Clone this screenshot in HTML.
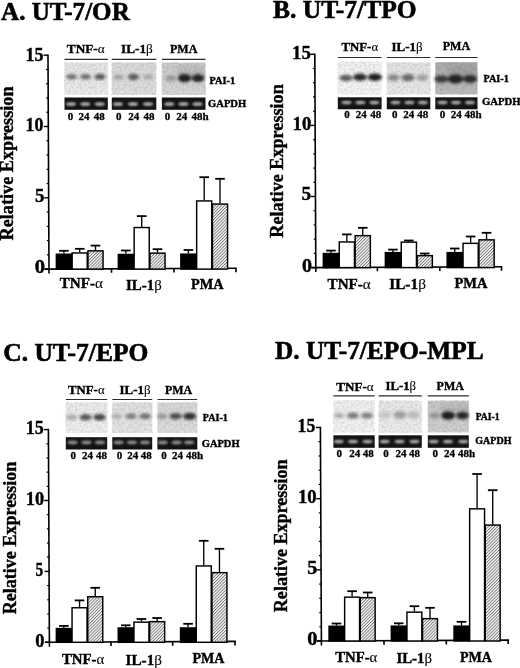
<!DOCTYPE html>
<html><head><meta charset="utf-8"><style>
html,body{margin:0;padding:0;background:#fff;overflow:hidden;}
svg{display:block;filter:grayscale(1);}
text{font-family:"Liberation Serif",serif;font-weight:bold;fill:#000;stroke:#000;stroke-width:0.4px;}
.yl{stroke-width:0.4px;}
tspan{stroke-width:0.1px;}
.ti{stroke-width:0.6px;}
.nm{stroke-width:0.3px;}
</style></head><body>
<svg width="520" height="668" viewBox="0 0 520 668">
<defs>
<pattern id="hatch" patternUnits="userSpaceOnUse" width="2.2" height="2.2" patternTransform="rotate(45)">
<rect width="2.2" height="2.2" fill="#fff"/><line x1="0.5" y1="0" x2="0.5" y2="2.2" stroke="#666" stroke-width="0.85"/></pattern>
<linearGradient id="smear" x1="0" y1="0" x2="0" y2="1"><stop offset="0" stop-color="#000" stop-opacity="0.02"/><stop offset="1" stop-color="#000" stop-opacity="0.15"/></linearGradient>
<filter id="bl" x="-20%" y="-20%" width="140%" height="140%"><feGaussianBlur stdDeviation="1.5"/></filter>
<filter id="nz" x="0" y="0" width="100%" height="100%"><feTurbulence type="fractalNoise" baseFrequency="0.45" numOctaves="2" seed="7"/><feColorMatrix type="matrix" values="0 0 0 0 0  0 0 0 0 0  0 0 0 0 0  0 0 0 0.25 -0.09"/></filter>
<filter id="bl2" x="-50%" y="-100%" width="200%" height="300%"><feGaussianBlur stdDeviation="0.9"/></filter>
</defs>
<text x="1.05" y="19.50" font-size="25.5" textLength="128.71" lengthAdjust="spacingAndGlyphs" class="ti">A. UT-7/OR</text>
<text class="yl" transform="translate(13.40,240.47) rotate(-90)" x="0" y="0" font-size="18.5" textLength="154.01" lengthAdjust="spacingAndGlyphs">Relative Expression</text>
<g stroke="#000" fill="none">
<line x1="47.99" y1="54.40" x2="49.02" y2="273.60" stroke-width="1.6"/>
<line x1="44.50" y1="269.12" x2="236.80" y2="268.22" stroke-width="1.6"/>
<line x1="111.5" y1="268.81" x2="111.52" y2="272.81" stroke-width="1.6"/>
<line x1="174" y1="268.51" x2="174.02" y2="272.51" stroke-width="1.6"/>
<line x1="236" y1="268.22" x2="236.02" y2="272.22" stroke-width="1.6"/>
<line x1="44.50" y1="269.10" x2="49.00" y2="269.10" stroke-width="1.4"/>
<line x1="46.93" y1="254.84" x2="48.93" y2="254.84" stroke-width="1.2"/>
<line x1="46.87" y1="240.58" x2="48.87" y2="240.58" stroke-width="1.2"/>
<line x1="46.80" y1="226.32" x2="48.80" y2="226.32" stroke-width="1.2"/>
<line x1="46.73" y1="212.06" x2="48.73" y2="212.06" stroke-width="1.2"/>
<line x1="44.17" y1="197.80" x2="48.67" y2="197.80" stroke-width="1.4"/>
<line x1="46.60" y1="183.54" x2="48.60" y2="183.54" stroke-width="1.2"/>
<line x1="46.53" y1="169.28" x2="48.53" y2="169.28" stroke-width="1.2"/>
<line x1="46.46" y1="155.02" x2="48.46" y2="155.02" stroke-width="1.2"/>
<line x1="46.40" y1="140.76" x2="48.40" y2="140.76" stroke-width="1.2"/>
<line x1="43.83" y1="126.50" x2="48.33" y2="126.50" stroke-width="1.4"/>
<line x1="46.26" y1="112.24" x2="48.26" y2="112.24" stroke-width="1.2"/>
<line x1="46.20" y1="97.98" x2="48.20" y2="97.98" stroke-width="1.2"/>
<line x1="46.13" y1="83.72" x2="48.13" y2="83.72" stroke-width="1.2"/>
<line x1="46.06" y1="69.46" x2="48.06" y2="69.46" stroke-width="1.2"/>
<line x1="43.50" y1="55.20" x2="48.00" y2="55.20" stroke-width="1.4"/>
</g>
<text x="25.46" y="60.50" font-size="18.5" textLength="17.97" lengthAdjust="spacingAndGlyphs">15</text>
<text x="25.57" y="131.20" font-size="18.5" textLength="17.84" lengthAdjust="spacingAndGlyphs">10</text>
<text x="34.95" y="202.00" font-size="18.5" textLength="9.41" lengthAdjust="spacingAndGlyphs">5</text>
<text x="34.68" y="273.40" font-size="18.5" textLength="10.24" lengthAdjust="spacingAndGlyphs">0</text>
<path d="M63.90 253.6 V250.8" stroke="#000" stroke-width="1.35" fill="none"/><path d="M59.10 250.8 H68.70" stroke="#000" stroke-width="1.8" fill="none"/>
<rect x="56.35" y="254.25" width="15.10" height="14.85" fill="#000" stroke="#000" stroke-width="1.45"/>
<path d="M79.70 252.3 V248.8" stroke="#000" stroke-width="1.35" fill="none"/><path d="M74.90 248.8 H84.50" stroke="#000" stroke-width="1.8" fill="none"/>
<rect x="72.15" y="252.95" width="15.10" height="16.15" fill="#fff" stroke="#000" stroke-width="1.45"/>
<path d="M95.50 250.2 V245.6" stroke="#000" stroke-width="1.35" fill="none"/><path d="M90.70 245.6 H100.30" stroke="#000" stroke-width="1.8" fill="none"/>
<rect x="87.95" y="250.85" width="15.10" height="18.25" fill="url(#hatch)" stroke="#000" stroke-width="1.45"/>
<path d="M125.90 253.8 V250.5" stroke="#000" stroke-width="1.35" fill="none"/><path d="M121.10 250.5 H130.70" stroke="#000" stroke-width="1.8" fill="none"/>
<rect x="118.35" y="254.45" width="15.10" height="14.65" fill="#000" stroke="#000" stroke-width="1.45"/>
<path d="M141.70 226.9 V216.1" stroke="#000" stroke-width="1.35" fill="none"/><path d="M136.90 216.1 H146.50" stroke="#000" stroke-width="1.8" fill="none"/>
<rect x="134.15" y="227.55" width="15.10" height="41.55" fill="#fff" stroke="#000" stroke-width="1.45"/>
<path d="M157.50 252.5 V249.2" stroke="#000" stroke-width="1.35" fill="none"/><path d="M152.70 249.2 H162.30" stroke="#000" stroke-width="1.8" fill="none"/>
<rect x="149.95" y="253.15" width="15.10" height="15.95" fill="url(#hatch)" stroke="#000" stroke-width="1.45"/>
<path d="M188.40 253.5 V250.0" stroke="#000" stroke-width="1.35" fill="none"/><path d="M183.60 250.0 H193.20" stroke="#000" stroke-width="1.8" fill="none"/>
<rect x="180.85" y="254.15" width="15.10" height="14.95" fill="#000" stroke="#000" stroke-width="1.45"/>
<path d="M204.20 200.3 V177.2" stroke="#000" stroke-width="1.35" fill="none"/><path d="M199.40 177.2 H209.00" stroke="#000" stroke-width="1.8" fill="none"/>
<rect x="196.65" y="200.95" width="15.10" height="68.15" fill="#fff" stroke="#000" stroke-width="1.45"/>
<path d="M220.00 203.4 V178.8" stroke="#000" stroke-width="1.35" fill="none"/><path d="M215.20 178.8 H224.80" stroke="#000" stroke-width="1.8" fill="none"/>
<rect x="212.45" y="204.05" width="15.10" height="65.05" fill="url(#hatch)" stroke="#000" stroke-width="1.45"/>
<text x="59.77" y="288.20" font-size="15" textLength="43.06" lengthAdjust="spacingAndGlyphs">TNF-<tspan font-weight="normal" font-style="normal">α</tspan></text>
<text x="125.98" y="290.00" font-size="15" textLength="35.76" lengthAdjust="spacingAndGlyphs">IL-1<tspan font-weight="normal" font-style="normal">β</tspan></text>
<text x="191.09" y="288.90" font-size="15" textLength="32.51" lengthAdjust="spacingAndGlyphs">PMA</text>
<linearGradient id="g1" x1="0" y1="0" x2="0" y2="1"><stop offset="0" stop-color="#e6e6e6"/><stop offset="1" stop-color="#ececec"/></linearGradient>
<line x1="64.5" y1="59.4" x2="107.8" y2="59.4" stroke="#2a2a2a" stroke-width="1.2"/>
<rect x="64.5" y="62.5" width="43.30" height="32.50" fill="url(#g1)"/>
<rect x="64.5" y="62.5" width="43.30" height="32.50" fill="#000" filter="url(#nz)"/>
<g filter="url(#bl)">
<ellipse cx="71.6" cy="76.8" rx="5.5" ry="2.8" fill="#707070"/>
<ellipse cx="85.6" cy="76.8" rx="5.5" ry="2.8" fill="#6c6c6c"/>
<ellipse cx="100" cy="76.8" rx="5.5" ry="3" fill="#5a5a5a"/>
</g>
<rect x="64.5" y="97.5" width="43.30" height="12.30" fill="#131313"/>
<g filter="url(#bl2)">
<ellipse cx="71" cy="104" rx="5.1" ry="1.8" fill="#b8b8b8"/>
<ellipse cx="85.3" cy="104" rx="5.1" ry="1.8" fill="#b8b8b8"/>
<ellipse cx="99.7" cy="104" rx="5.1" ry="1.8" fill="#b8b8b8"/>
</g>
<linearGradient id="g2" x1="0" y1="0" x2="0" y2="1"><stop offset="0" stop-color="#dadada"/><stop offset="1" stop-color="#e0e0e0"/></linearGradient>
<line x1="111.8" y1="59.4" x2="156.3" y2="59.4" stroke="#2a2a2a" stroke-width="1.2"/>
<rect x="111.8" y="62.5" width="44.50" height="32.30" fill="url(#g2)"/>
<rect x="111.8" y="62.5" width="44.50" height="32.30" fill="#000" filter="url(#nz)"/>
<g filter="url(#bl)">
<ellipse cx="118.5" cy="77" rx="5" ry="2.6" fill="#a0a0a0"/>
<ellipse cx="133.5" cy="77" rx="5.5" ry="3.3" fill="#5a5a5a"/>
<ellipse cx="148" cy="77" rx="5" ry="2.5" fill="#a4a4a4"/>
</g>
<rect x="111.8" y="97.5" width="44.50" height="12.30" fill="#131313"/>
<g filter="url(#bl2)">
<ellipse cx="118" cy="104" rx="5.1" ry="1.8" fill="#b8b8b8"/>
<ellipse cx="133" cy="104" rx="5.1" ry="1.8" fill="#b8b8b8"/>
<ellipse cx="148" cy="104" rx="5.1" ry="1.8" fill="#b8b8b8"/>
</g>
<linearGradient id="g3" x1="0" y1="0" x2="0" y2="1"><stop offset="0" stop-color="#cbcbcb"/><stop offset="1" stop-color="#dadada"/></linearGradient>
<line x1="161.9" y1="59.4" x2="205.5" y2="59.4" stroke="#2a2a2a" stroke-width="1.2"/>
<rect x="161.9" y="62.7" width="43.60" height="32.30" fill="url(#g3)"/>
<rect x="161.9" y="62.7" width="43.60" height="32.30" fill="#000" filter="url(#nz)"/>
<g filter="url(#bl)">
<rect x="177.90" y="63.7" width="13.20" height="14.50" fill="url(#smear)"/>
<rect x="191.70" y="63.7" width="12.60" height="14.50" fill="url(#smear)"/>
<ellipse cx="171" cy="78.2" rx="5.5" ry="3" fill="#959595"/>
<ellipse cx="184.5" cy="78.2" rx="6.6" ry="4.1" fill="#1c1c1c"/>
<ellipse cx="198" cy="78.2" rx="6.3" ry="3.9" fill="#242424"/>
</g>
<rect x="161.9" y="97.5" width="43.60" height="12.30" fill="#131313"/>
<g filter="url(#bl2)">
<ellipse cx="169.3" cy="104" rx="5.1" ry="1.8" fill="#b8b8b8"/>
<ellipse cx="183.5" cy="104" rx="5.1" ry="1.8" fill="#b8b8b8"/>
<ellipse cx="197.5" cy="104" rx="5.1" ry="1.8" fill="#b8b8b8"/>
</g>
<text x="66.80" y="52.80" font-size="13" textLength="37.89" lengthAdjust="spacingAndGlyphs">TNF-<tspan font-weight="normal" font-style="normal">α</tspan></text>
<text x="121.04" y="53.00" font-size="13" textLength="31.84" lengthAdjust="spacingAndGlyphs">IL-1<tspan font-weight="normal" font-style="normal">β</tspan></text>
<text x="169.92" y="53.00" font-size="13" textLength="27.46" lengthAdjust="spacingAndGlyphs">PMA</text>
<text class="nm" x="70.60" y="119.80" font-size="11" text-anchor="middle">0</text>
<text class="nm" x="83.90" y="119.80" font-size="11" text-anchor="middle">24</text>
<text class="nm" x="99.20" y="119.80" font-size="11" text-anchor="middle">48</text>
<text class="nm" x="118.80" y="119.80" font-size="11" text-anchor="middle">0</text>
<text class="nm" x="133.70" y="119.80" font-size="11" text-anchor="middle">24</text>
<text class="nm" x="149.00" y="119.80" font-size="11" text-anchor="middle">48</text>
<text class="nm" x="167.60" y="119.80" font-size="11" text-anchor="middle">0</text>
<text class="nm" x="181.70" y="119.80" font-size="11" text-anchor="middle">24</text>
<text class="nm" x="200.10" y="119.80" font-size="11" text-anchor="middle">48h</text>
<text x="209.44" y="84.20" font-size="10.8" textLength="25.68" lengthAdjust="spacingAndGlyphs">PAI-1</text>
<text x="208.07" y="107.30" font-size="10.8" textLength="38.09" lengthAdjust="spacingAndGlyphs">GAPDH</text>
<text x="273.02" y="18.20" font-size="25.5" textLength="143.56" lengthAdjust="spacingAndGlyphs" class="ti">B. UT-7/TPO</text>
<text class="yl" transform="translate(282.70,237.67) rotate(-90)" x="0" y="0" font-size="18.5" textLength="153.41" lengthAdjust="spacingAndGlyphs">Relative Expression</text>
<g stroke="#000" fill="none">
<line x1="314.79" y1="53.50" x2="315.82" y2="272.10" stroke-width="1.6"/>
<line x1="311.30" y1="267.62" x2="502.30" y2="266.72" stroke-width="1.6"/>
<line x1="377.4" y1="267.31" x2="377.42" y2="271.31" stroke-width="1.6"/>
<line x1="439.8" y1="267.02" x2="439.82" y2="271.02" stroke-width="1.6"/>
<line x1="501.5" y1="266.73" x2="501.52" y2="270.73" stroke-width="1.6"/>
<line x1="311.30" y1="267.60" x2="315.80" y2="267.60" stroke-width="1.4"/>
<line x1="313.73" y1="253.38" x2="315.73" y2="253.38" stroke-width="1.2"/>
<line x1="313.67" y1="239.16" x2="315.67" y2="239.16" stroke-width="1.2"/>
<line x1="313.60" y1="224.94" x2="315.60" y2="224.94" stroke-width="1.2"/>
<line x1="313.53" y1="210.72" x2="315.53" y2="210.72" stroke-width="1.2"/>
<line x1="310.97" y1="196.50" x2="315.47" y2="196.50" stroke-width="1.4"/>
<line x1="313.40" y1="182.28" x2="315.40" y2="182.28" stroke-width="1.2"/>
<line x1="313.33" y1="168.06" x2="315.33" y2="168.06" stroke-width="1.2"/>
<line x1="313.27" y1="153.84" x2="315.27" y2="153.84" stroke-width="1.2"/>
<line x1="313.20" y1="139.62" x2="315.20" y2="139.62" stroke-width="1.2"/>
<line x1="310.63" y1="125.40" x2="315.13" y2="125.40" stroke-width="1.4"/>
<line x1="313.07" y1="111.18" x2="315.07" y2="111.18" stroke-width="1.2"/>
<line x1="313.00" y1="96.96" x2="315.00" y2="96.96" stroke-width="1.2"/>
<line x1="312.93" y1="82.74" x2="314.93" y2="82.74" stroke-width="1.2"/>
<line x1="312.87" y1="68.52" x2="314.87" y2="68.52" stroke-width="1.2"/>
<line x1="310.30" y1="54.30" x2="314.80" y2="54.30" stroke-width="1.4"/>
</g>
<text x="292.10" y="58.90" font-size="18.5" textLength="18.76" lengthAdjust="spacingAndGlyphs">15</text>
<text x="292.50" y="129.60" font-size="18.5" textLength="18.75" lengthAdjust="spacingAndGlyphs">10</text>
<text x="301.53" y="200.40" font-size="18.5" textLength="9.65" lengthAdjust="spacingAndGlyphs">5</text>
<text x="302.00" y="272.00" font-size="18.5" textLength="10.00" lengthAdjust="spacingAndGlyphs">0</text>
<path d="M330.95 252.9 V250.6" stroke="#000" stroke-width="1.35" fill="none"/><path d="M326.15 250.6 H335.75" stroke="#000" stroke-width="1.8" fill="none"/>
<rect x="323.35" y="253.55" width="15.20" height="14.05" fill="#000" stroke="#000" stroke-width="1.45"/>
<path d="M346.85 241.3 V234.4" stroke="#000" stroke-width="1.35" fill="none"/><path d="M342.05 234.4 H351.65" stroke="#000" stroke-width="1.8" fill="none"/>
<rect x="339.25" y="241.95" width="15.20" height="25.65" fill="#fff" stroke="#000" stroke-width="1.45"/>
<path d="M362.75 235 V227.8" stroke="#000" stroke-width="1.35" fill="none"/><path d="M357.95 227.8 H367.55" stroke="#000" stroke-width="1.8" fill="none"/>
<rect x="355.15" y="235.65" width="15.20" height="31.95" fill="url(#hatch)" stroke="#000" stroke-width="1.45"/>
<path d="M392.95 252 V249.6" stroke="#000" stroke-width="1.35" fill="none"/><path d="M388.15 249.6 H397.75" stroke="#000" stroke-width="1.8" fill="none"/>
<rect x="385.35" y="252.65" width="15.20" height="14.95" fill="#000" stroke="#000" stroke-width="1.45"/>
<path d="M408.85 241.5 V240.5" stroke="#000" stroke-width="1.35" fill="none"/><path d="M404.05 240.5 H413.65" stroke="#000" stroke-width="1.8" fill="none"/>
<rect x="401.25" y="242.15" width="15.20" height="25.45" fill="#fff" stroke="#000" stroke-width="1.45"/>
<path d="M424.75 255 V253.5" stroke="#000" stroke-width="1.35" fill="none"/><path d="M419.95 253.5 H429.55" stroke="#000" stroke-width="1.8" fill="none"/>
<rect x="417.15" y="255.65" width="15.20" height="11.95" fill="url(#hatch)" stroke="#000" stroke-width="1.45"/>
<path d="M454.75 252 V248.5" stroke="#000" stroke-width="1.35" fill="none"/><path d="M449.95 248.5 H459.55" stroke="#000" stroke-width="1.8" fill="none"/>
<rect x="447.15" y="252.65" width="15.20" height="14.95" fill="#000" stroke="#000" stroke-width="1.45"/>
<path d="M470.65 242.7 V236.5" stroke="#000" stroke-width="1.35" fill="none"/><path d="M465.85 236.5 H475.45" stroke="#000" stroke-width="1.8" fill="none"/>
<rect x="463.05" y="243.35" width="15.20" height="24.25" fill="#fff" stroke="#000" stroke-width="1.45"/>
<path d="M486.55 239.2 V232.8" stroke="#000" stroke-width="1.35" fill="none"/><path d="M481.75 232.8 H491.35" stroke="#000" stroke-width="1.8" fill="none"/>
<rect x="478.95" y="239.85" width="15.20" height="27.75" fill="url(#hatch)" stroke="#000" stroke-width="1.45"/>
<text x="327.57" y="289.00" font-size="15" textLength="43.16" lengthAdjust="spacingAndGlyphs">TNF-<tspan font-weight="normal" font-style="normal">α</tspan></text>
<text x="389.16" y="288.90" font-size="15" textLength="36.80" lengthAdjust="spacingAndGlyphs">IL-1<tspan font-weight="normal" font-style="normal">β</tspan></text>
<text x="454.38" y="288.40" font-size="15" textLength="33.02" lengthAdjust="spacingAndGlyphs">PMA</text>
<linearGradient id="g4" x1="0" y1="0" x2="0" y2="1"><stop offset="0" stop-color="#f2f2f2"/><stop offset="1" stop-color="#f6f6f6"/></linearGradient>
<line x1="337.8" y1="57.5" x2="381.6" y2="57.5" stroke="#2a2a2a" stroke-width="1.2"/>
<rect x="337.8" y="61.8" width="43.80" height="32.60" fill="url(#g4)"/>
<rect x="337.8" y="61.8" width="43.80" height="32.60" fill="#000" filter="url(#nz)"/>
<g filter="url(#bl)">
<ellipse cx="346" cy="78" rx="6.5" ry="3.2" fill="#585858"/>
<ellipse cx="360" cy="77.2" rx="7" ry="3.6" fill="#282828"/>
<ellipse cx="374.9" cy="77.2" rx="7" ry="3.7" fill="#1e1e1e"/>
</g>
<rect x="337.8" y="97.3" width="43.80" height="12.00" fill="#131313"/>
<g filter="url(#bl2)">
<ellipse cx="346.5" cy="102.5" rx="5.1" ry="1.8" fill="#b0b0b0"/>
<ellipse cx="360.4" cy="102.5" rx="5.1" ry="1.8" fill="#b0b0b0"/>
<ellipse cx="374.4" cy="102.5" rx="5.1" ry="1.8" fill="#b0b0b0"/>
</g>
<linearGradient id="g5" x1="0" y1="0" x2="0" y2="1"><stop offset="0" stop-color="#e4e4e4"/><stop offset="1" stop-color="#eaeaea"/></linearGradient>
<line x1="386.8" y1="57.5" x2="430.3" y2="57.5" stroke="#2a2a2a" stroke-width="1.2"/>
<rect x="386.8" y="62.5" width="43.50" height="31.90" fill="url(#g5)"/>
<rect x="386.8" y="62.5" width="43.50" height="31.90" fill="#000" filter="url(#nz)"/>
<g filter="url(#bl)">
<ellipse cx="393.5" cy="77.6" rx="6.2" ry="3.3" fill="#888"/>
<ellipse cx="408" cy="77.6" rx="6.5" ry="3.6" fill="#6a6a6a"/>
<ellipse cx="422.4" cy="77.6" rx="6" ry="3.3" fill="#a0a0a0"/>
</g>
<rect x="386.8" y="97.3" width="43.50" height="12.00" fill="#131313"/>
<g filter="url(#bl2)">
<ellipse cx="395.5" cy="102.5" rx="5.1" ry="1.8" fill="#b0b0b0"/>
<ellipse cx="409.4" cy="102.5" rx="5.1" ry="1.8" fill="#b0b0b0"/>
<ellipse cx="422.9" cy="102.5" rx="5.1" ry="1.8" fill="#b0b0b0"/>
</g>
<linearGradient id="g6" x1="0" y1="0" x2="0" y2="1"><stop offset="0" stop-color="#acacac"/><stop offset="1" stop-color="#bebebe"/></linearGradient>
<line x1="435.3" y1="57.5" x2="477.5" y2="57.5" stroke="#2a2a2a" stroke-width="1.2"/>
<rect x="435.3" y="62.2" width="42.20" height="32.20" fill="url(#g6)"/>
<rect x="435.3" y="62.2" width="42.20" height="32.20" fill="#000" filter="url(#nz)"/>
<g filter="url(#bl)">
<rect x="448.00" y="63.2" width="15.00" height="15.80" fill="url(#smear)"/>
<rect x="463.00" y="63.2" width="14.00" height="15.80" fill="url(#smear)"/>
<ellipse cx="441.5" cy="79" rx="7" ry="3.8" fill="#3a3a3a"/>
<ellipse cx="455.5" cy="79" rx="7.5" ry="4.5" fill="#202020"/>
<ellipse cx="470" cy="79" rx="7" ry="4" fill="#2c2c2c"/>
</g>
<rect x="435.3" y="97.3" width="42.20" height="12.00" fill="#131313"/>
<g filter="url(#bl2)">
<ellipse cx="442.5" cy="102.5" rx="5.1" ry="1.8" fill="#b0b0b0"/>
<ellipse cx="456" cy="102.5" rx="5.1" ry="1.8" fill="#b0b0b0"/>
<ellipse cx="470" cy="102.5" rx="5.1" ry="1.8" fill="#b0b0b0"/>
</g>
<text x="341.51" y="50.50" font-size="13" textLength="36.57" lengthAdjust="spacingAndGlyphs">TNF-<tspan font-weight="normal" font-style="normal">α</tspan></text>
<text x="391.45" y="50.50" font-size="13" textLength="31.11" lengthAdjust="spacingAndGlyphs">IL-1<tspan font-weight="normal" font-style="normal">β</tspan></text>
<text x="442.72" y="50.30" font-size="13" textLength="27.46" lengthAdjust="spacingAndGlyphs">PMA</text>
<text class="nm" x="347.00" y="118.40" font-size="11" text-anchor="middle">0</text>
<text class="nm" x="361.20" y="118.40" font-size="11" text-anchor="middle">24</text>
<text class="nm" x="375.70" y="118.40" font-size="11" text-anchor="middle">48</text>
<text class="nm" x="394.70" y="118.40" font-size="11" text-anchor="middle">0</text>
<text class="nm" x="408.80" y="118.40" font-size="11" text-anchor="middle">24</text>
<text class="nm" x="422.70" y="118.40" font-size="11" text-anchor="middle">48</text>
<text class="nm" x="442.60" y="118.40" font-size="11" text-anchor="middle">0</text>
<text class="nm" x="456.20" y="118.40" font-size="11" text-anchor="middle">24</text>
<text class="nm" x="473.00" y="118.40" font-size="11" text-anchor="middle">48h</text>
<text x="483.45" y="81.90" font-size="10.8" textLength="25.48" lengthAdjust="spacingAndGlyphs">PAI-1</text>
<text x="481.96" y="104.70" font-size="10.8" textLength="38.71" lengthAdjust="spacingAndGlyphs">GAPDH</text>
<text x="3.22" y="360.60" font-size="25.5" textLength="145.16" lengthAdjust="spacingAndGlyphs" class="ti">C. UT-7/EPO</text>
<text class="yl" transform="translate(15.50,614.27) rotate(-90)" x="0" y="0" font-size="18.5" textLength="152.61" lengthAdjust="spacingAndGlyphs">Relative Expression</text>
<g stroke="#000" fill="none">
<line x1="48.40" y1="428.80" x2="49.42" y2="646.80" stroke-width="1.6"/>
<line x1="44.90" y1="642.32" x2="235.80" y2="641.42" stroke-width="1.6"/>
<line x1="111" y1="642.01" x2="111.02" y2="646.01" stroke-width="1.6"/>
<line x1="172.7" y1="641.72" x2="172.72" y2="645.72" stroke-width="1.6"/>
<line x1="235" y1="641.43" x2="235.02" y2="645.43" stroke-width="1.6"/>
<line x1="44.90" y1="642.30" x2="49.40" y2="642.30" stroke-width="1.4"/>
<line x1="47.33" y1="628.12" x2="49.33" y2="628.12" stroke-width="1.2"/>
<line x1="47.27" y1="613.94" x2="49.27" y2="613.94" stroke-width="1.2"/>
<line x1="47.20" y1="599.76" x2="49.20" y2="599.76" stroke-width="1.2"/>
<line x1="47.13" y1="585.58" x2="49.13" y2="585.58" stroke-width="1.2"/>
<line x1="44.57" y1="571.40" x2="49.07" y2="571.40" stroke-width="1.4"/>
<line x1="47.00" y1="557.22" x2="49.00" y2="557.22" stroke-width="1.2"/>
<line x1="46.93" y1="543.04" x2="48.93" y2="543.04" stroke-width="1.2"/>
<line x1="46.87" y1="528.86" x2="48.87" y2="528.86" stroke-width="1.2"/>
<line x1="46.80" y1="514.68" x2="48.80" y2="514.68" stroke-width="1.2"/>
<line x1="44.23" y1="500.50" x2="48.73" y2="500.50" stroke-width="1.4"/>
<line x1="46.67" y1="486.32" x2="48.67" y2="486.32" stroke-width="1.2"/>
<line x1="46.60" y1="472.14" x2="48.60" y2="472.14" stroke-width="1.2"/>
<line x1="46.53" y1="457.96" x2="48.53" y2="457.96" stroke-width="1.2"/>
<line x1="46.47" y1="443.78" x2="48.47" y2="443.78" stroke-width="1.2"/>
<line x1="43.90" y1="429.60" x2="48.40" y2="429.60" stroke-width="1.4"/>
</g>
<text x="25.76" y="434.00" font-size="18.5" textLength="17.97" lengthAdjust="spacingAndGlyphs">15</text>
<text x="25.83" y="505.30" font-size="18.5" textLength="18.41" lengthAdjust="spacingAndGlyphs">10</text>
<text x="35.39" y="576.00" font-size="18.5" textLength="7.65" lengthAdjust="spacingAndGlyphs">5</text>
<text x="35.26" y="646.90" font-size="18.5" textLength="9.23" lengthAdjust="spacingAndGlyphs">0</text>
<path d="M63.85 627.9 V625.9" stroke="#000" stroke-width="1.35" fill="none"/><path d="M59.05 625.9 H68.65" stroke="#000" stroke-width="1.8" fill="none"/>
<rect x="56.35" y="628.55" width="15.00" height="13.75" fill="#000" stroke="#000" stroke-width="1.45"/>
<path d="M79.55 607.1 V600.4" stroke="#000" stroke-width="1.35" fill="none"/><path d="M74.75 600.4 H84.35" stroke="#000" stroke-width="1.8" fill="none"/>
<rect x="72.05" y="607.75" width="15.00" height="34.55" fill="#fff" stroke="#000" stroke-width="1.45"/>
<path d="M95.25 596.1 V587.8" stroke="#000" stroke-width="1.35" fill="none"/><path d="M90.45 587.8 H100.05" stroke="#000" stroke-width="1.8" fill="none"/>
<rect x="87.75" y="596.75" width="15.00" height="45.55" fill="url(#hatch)" stroke="#000" stroke-width="1.45"/>
<path d="M125.75 627.3 V625.3" stroke="#000" stroke-width="1.35" fill="none"/><path d="M120.95 625.3 H130.55" stroke="#000" stroke-width="1.8" fill="none"/>
<rect x="118.25" y="627.95" width="15.00" height="14.35" fill="#000" stroke="#000" stroke-width="1.45"/>
<path d="M141.45 621.5 V619" stroke="#000" stroke-width="1.35" fill="none"/><path d="M136.65 619 H146.25" stroke="#000" stroke-width="1.8" fill="none"/>
<rect x="133.95" y="622.15" width="15.00" height="20.15" fill="#fff" stroke="#000" stroke-width="1.45"/>
<path d="M157.15 621 V618" stroke="#000" stroke-width="1.35" fill="none"/><path d="M152.35 618 H161.95" stroke="#000" stroke-width="1.8" fill="none"/>
<rect x="149.65" y="621.65" width="15.00" height="20.65" fill="url(#hatch)" stroke="#000" stroke-width="1.45"/>
<path d="M188.05 627.3 V623.8" stroke="#000" stroke-width="1.35" fill="none"/><path d="M183.25 623.8 H192.85" stroke="#000" stroke-width="1.8" fill="none"/>
<rect x="180.55" y="627.95" width="15.00" height="14.35" fill="#000" stroke="#000" stroke-width="1.45"/>
<path d="M203.75 565.3 V540.8" stroke="#000" stroke-width="1.35" fill="none"/><path d="M198.95 540.8 H208.55" stroke="#000" stroke-width="1.8" fill="none"/>
<rect x="196.25" y="565.95" width="15.00" height="76.35" fill="#fff" stroke="#000" stroke-width="1.45"/>
<path d="M219.45 572 V548.8" stroke="#000" stroke-width="1.35" fill="none"/><path d="M214.65 548.8 H224.25" stroke="#000" stroke-width="1.8" fill="none"/>
<rect x="211.95" y="572.65" width="15.00" height="69.65" fill="url(#hatch)" stroke="#000" stroke-width="1.45"/>
<text x="61.98" y="663.90" font-size="15" textLength="42.35" lengthAdjust="spacingAndGlyphs">TNF-<tspan font-weight="normal" font-style="normal">α</tspan></text>
<text x="125.57" y="664.50" font-size="15" textLength="36.38" lengthAdjust="spacingAndGlyphs">IL-1<tspan font-weight="normal" font-style="normal">β</tspan></text>
<text x="192.49" y="663.30" font-size="15" textLength="32.01" lengthAdjust="spacingAndGlyphs">PMA</text>
<linearGradient id="g7" x1="0" y1="0" x2="0" y2="1"><stop offset="0" stop-color="#ececec"/><stop offset="1" stop-color="#f0f0f0"/></linearGradient>
<line x1="65.8" y1="399.5" x2="107.2" y2="399.5" stroke="#2a2a2a" stroke-width="1.2"/>
<rect x="65.8" y="402.3" width="41.40" height="30.70" fill="url(#g7)"/>
<rect x="65.8" y="402.3" width="41.40" height="30.70" fill="#000" filter="url(#nz)"/>
<g filter="url(#bl)">
<ellipse cx="71.6" cy="417.2" rx="5.5" ry="2.8" fill="#a8a8a8"/>
<ellipse cx="85.6" cy="417.2" rx="6" ry="3.2" fill="#585858"/>
<ellipse cx="99.5" cy="417.2" rx="6" ry="3.3" fill="#444"/>
</g>
<rect x="65.8" y="437.2" width="41.40" height="12.30" fill="#131313"/>
<g filter="url(#bl2)">
<ellipse cx="72.6" cy="442.4" rx="5.1" ry="1.8" fill="#909090"/>
<ellipse cx="86.5" cy="442.4" rx="5.1" ry="1.8" fill="#909090"/>
<ellipse cx="100" cy="442.4" rx="5.1" ry="1.8" fill="#909090"/>
</g>
<linearGradient id="g8" x1="0" y1="0" x2="0" y2="1"><stop offset="0" stop-color="#e0e0e0"/><stop offset="1" stop-color="#e6e6e6"/></linearGradient>
<line x1="112.3" y1="399.5" x2="152.2" y2="399.5" stroke="#2a2a2a" stroke-width="1.2"/>
<rect x="112.3" y="402.3" width="39.90" height="30.70" fill="url(#g8)"/>
<rect x="112.3" y="402.3" width="39.90" height="30.70" fill="#000" filter="url(#nz)"/>
<g filter="url(#bl)">
<ellipse cx="116.7" cy="416.2" rx="5" ry="2.6" fill="#b0b0b0"/>
<ellipse cx="131" cy="416.2" rx="5.5" ry="3" fill="#808080"/>
<ellipse cx="145" cy="416.2" rx="5.5" ry="3" fill="#707070"/>
</g>
<rect x="112.3" y="437.2" width="39.90" height="12.30" fill="#131313"/>
<g filter="url(#bl2)">
<ellipse cx="118.6" cy="442.4" rx="5.1" ry="1.8" fill="#909090"/>
<ellipse cx="132" cy="442.4" rx="5.1" ry="1.8" fill="#909090"/>
<ellipse cx="145" cy="442.4" rx="5.1" ry="1.8" fill="#909090"/>
</g>
<linearGradient id="g9" x1="0" y1="0" x2="0" y2="1"><stop offset="0" stop-color="#d8d8d8"/><stop offset="1" stop-color="#e0e0e0"/></linearGradient>
<line x1="157.4" y1="399.5" x2="197.3" y2="399.5" stroke="#2a2a2a" stroke-width="1.2"/>
<rect x="157.4" y="402.3" width="39.90" height="30.70" fill="url(#g9)"/>
<rect x="157.4" y="402.3" width="39.90" height="30.70" fill="#000" filter="url(#nz)"/>
<g filter="url(#bl)">
<ellipse cx="162.2" cy="416.2" rx="5" ry="2.8" fill="#989898"/>
<ellipse cx="175.6" cy="416.2" rx="6" ry="3.3" fill="#4c4c4c"/>
<ellipse cx="189.6" cy="416.2" rx="6.5" ry="3.5" fill="#2e2e2e"/>
</g>
<rect x="157.4" y="437.2" width="39.90" height="12.30" fill="#131313"/>
<g filter="url(#bl2)">
<ellipse cx="162.7" cy="442.4" rx="5.1" ry="1.8" fill="#909090"/>
<ellipse cx="176.6" cy="442.4" rx="5.1" ry="1.8" fill="#909090"/>
<ellipse cx="189.1" cy="442.4" rx="5.1" ry="1.8" fill="#909090"/>
</g>
<text x="68.06" y="393.90" font-size="13" textLength="36.52" lengthAdjust="spacingAndGlyphs">TNF-<tspan font-weight="normal" font-style="normal">α</tspan></text>
<text x="119.45" y="393.90" font-size="13" textLength="31.11" lengthAdjust="spacingAndGlyphs">IL-1<tspan font-weight="normal" font-style="normal">β</tspan></text>
<text x="164.92" y="393.50" font-size="13" textLength="27.16" lengthAdjust="spacingAndGlyphs">PMA</text>
<text class="nm" x="73.30" y="459.30" font-size="11" text-anchor="middle">0</text>
<text class="nm" x="87.50" y="459.30" font-size="11" text-anchor="middle">24</text>
<text class="nm" x="101.40" y="459.30" font-size="11" text-anchor="middle">48</text>
<text class="nm" x="119.40" y="459.30" font-size="11" text-anchor="middle">0</text>
<text class="nm" x="132.80" y="459.30" font-size="11" text-anchor="middle">24</text>
<text class="nm" x="146.20" y="459.30" font-size="11" text-anchor="middle">48</text>
<text class="nm" x="164.10" y="459.30" font-size="11" text-anchor="middle">0</text>
<text class="nm" x="177.50" y="459.30" font-size="11" text-anchor="middle">24</text>
<text class="nm" x="194.60" y="459.30" font-size="11" text-anchor="middle">48h</text>
<text x="202.75" y="421.20" font-size="10.8" textLength="25.07" lengthAdjust="spacingAndGlyphs">PAI-1</text>
<text x="201.78" y="446.50" font-size="10.8" textLength="37.79" lengthAdjust="spacingAndGlyphs">GAPDH</text>
<text x="274.99" y="358.60" font-size="25.5" textLength="208.54" lengthAdjust="spacingAndGlyphs" class="ti">D. UT-7/EPO-MPL</text>
<text class="yl" transform="translate(286.70,612.17) rotate(-90)" x="0" y="0" font-size="18.5" textLength="152.71" lengthAdjust="spacingAndGlyphs">Relative Expression</text>
<g stroke="#000" fill="none">
<line x1="320.39" y1="426.70" x2="321.42" y2="645.50" stroke-width="1.6"/>
<line x1="316.90" y1="641.02" x2="509.00" y2="640.12" stroke-width="1.6"/>
<line x1="384" y1="640.71" x2="384.02" y2="644.71" stroke-width="1.6"/>
<line x1="446.3" y1="640.41" x2="446.32" y2="644.41" stroke-width="1.6"/>
<line x1="508.2" y1="640.12" x2="508.22" y2="644.12" stroke-width="1.6"/>
<line x1="316.90" y1="641.00" x2="321.40" y2="641.00" stroke-width="1.4"/>
<line x1="319.33" y1="626.77" x2="321.33" y2="626.77" stroke-width="1.2"/>
<line x1="319.27" y1="612.53" x2="321.27" y2="612.53" stroke-width="1.2"/>
<line x1="319.20" y1="598.30" x2="321.20" y2="598.30" stroke-width="1.2"/>
<line x1="319.13" y1="584.07" x2="321.13" y2="584.07" stroke-width="1.2"/>
<line x1="316.57" y1="569.83" x2="321.07" y2="569.83" stroke-width="1.4"/>
<line x1="319.00" y1="555.60" x2="321.00" y2="555.60" stroke-width="1.2"/>
<line x1="318.93" y1="541.37" x2="320.93" y2="541.37" stroke-width="1.2"/>
<line x1="318.87" y1="527.13" x2="320.87" y2="527.13" stroke-width="1.2"/>
<line x1="318.80" y1="512.90" x2="320.80" y2="512.90" stroke-width="1.2"/>
<line x1="316.23" y1="498.67" x2="320.73" y2="498.67" stroke-width="1.4"/>
<line x1="318.66" y1="484.43" x2="320.66" y2="484.43" stroke-width="1.2"/>
<line x1="318.60" y1="470.20" x2="320.60" y2="470.20" stroke-width="1.2"/>
<line x1="318.53" y1="455.97" x2="320.53" y2="455.97" stroke-width="1.2"/>
<line x1="318.46" y1="441.73" x2="320.46" y2="441.73" stroke-width="1.2"/>
<line x1="315.90" y1="427.50" x2="320.40" y2="427.50" stroke-width="1.4"/>
</g>
<text x="297.59" y="432.00" font-size="18.5" textLength="17.63" lengthAdjust="spacingAndGlyphs">15</text>
<text x="297.91" y="503.40" font-size="18.5" textLength="18.64" lengthAdjust="spacingAndGlyphs">10</text>
<text x="307.20" y="574.40" font-size="18.5" textLength="10.00" lengthAdjust="spacingAndGlyphs">5</text>
<text x="307.28" y="644.70" font-size="18.5" textLength="10.24" lengthAdjust="spacingAndGlyphs">0</text>
<path d="M336.50 625.6 V623.5" stroke="#000" stroke-width="1.35" fill="none"/><path d="M331.70 623.5 H341.30" stroke="#000" stroke-width="1.8" fill="none"/>
<rect x="329.05" y="626.25" width="14.90" height="14.75" fill="#000" stroke="#000" stroke-width="1.45"/>
<path d="M352.10 596.5 V591.2" stroke="#000" stroke-width="1.35" fill="none"/><path d="M347.30 591.2 H356.90" stroke="#000" stroke-width="1.8" fill="none"/>
<rect x="344.65" y="597.15" width="14.90" height="43.85" fill="#fff" stroke="#000" stroke-width="1.45"/>
<path d="M367.70 597 V592.5" stroke="#000" stroke-width="1.35" fill="none"/><path d="M362.90 592.5 H372.50" stroke="#000" stroke-width="1.8" fill="none"/>
<rect x="360.25" y="597.65" width="14.90" height="43.35" fill="url(#hatch)" stroke="#000" stroke-width="1.45"/>
<path d="M398.80 625.5 V623.3" stroke="#000" stroke-width="1.35" fill="none"/><path d="M394.00 623.3 H403.60" stroke="#000" stroke-width="1.8" fill="none"/>
<rect x="391.35" y="626.15" width="14.90" height="14.85" fill="#000" stroke="#000" stroke-width="1.45"/>
<path d="M414.40 611.5 V606.2" stroke="#000" stroke-width="1.35" fill="none"/><path d="M409.60 606.2 H419.20" stroke="#000" stroke-width="1.8" fill="none"/>
<rect x="406.95" y="612.15" width="14.90" height="28.85" fill="#fff" stroke="#000" stroke-width="1.45"/>
<path d="M430.00 618 V607.8" stroke="#000" stroke-width="1.35" fill="none"/><path d="M425.20 607.8 H434.80" stroke="#000" stroke-width="1.8" fill="none"/>
<rect x="422.55" y="618.65" width="14.90" height="22.35" fill="url(#hatch)" stroke="#000" stroke-width="1.45"/>
<path d="M461.50 625.5 V621.8" stroke="#000" stroke-width="1.35" fill="none"/><path d="M456.70 621.8 H466.30" stroke="#000" stroke-width="1.8" fill="none"/>
<rect x="454.05" y="626.15" width="14.90" height="14.85" fill="#000" stroke="#000" stroke-width="1.45"/>
<path d="M477.10 508.2 V474" stroke="#000" stroke-width="1.35" fill="none"/><path d="M472.30 474 H481.90" stroke="#000" stroke-width="1.8" fill="none"/>
<rect x="469.65" y="508.85" width="14.90" height="132.15" fill="#fff" stroke="#000" stroke-width="1.45"/>
<path d="M492.70 524.4 V490.2" stroke="#000" stroke-width="1.35" fill="none"/><path d="M487.90 490.2 H497.50" stroke="#000" stroke-width="1.8" fill="none"/>
<rect x="485.25" y="525.05" width="14.90" height="115.95" fill="url(#hatch)" stroke="#000" stroke-width="1.45"/>
<text x="335.28" y="662.40" font-size="15" textLength="42.04" lengthAdjust="spacingAndGlyphs">TNF-<tspan font-weight="normal" font-style="normal">α</tspan></text>
<text x="396.38" y="663.30" font-size="15" textLength="35.76" lengthAdjust="spacingAndGlyphs">IL-1<tspan font-weight="normal" font-style="normal">β</tspan></text>
<text x="459.89" y="662.20" font-size="15" textLength="32.01" lengthAdjust="spacingAndGlyphs">PMA</text>
<linearGradient id="g10" x1="0" y1="0" x2="0" y2="1"><stop offset="0" stop-color="#f0f0f0"/><stop offset="1" stop-color="#f4f4f4"/></linearGradient>
<line x1="333.4" y1="395.8" x2="374.7" y2="395.8" stroke="#2a2a2a" stroke-width="1.2"/>
<rect x="333.4" y="400.2" width="41.30" height="32.20" fill="url(#g10)"/>
<rect x="333.4" y="400.2" width="41.30" height="32.20" fill="#000" filter="url(#nz)"/>
<g filter="url(#bl)">
<ellipse cx="339.1" cy="415.6" rx="5.5" ry="2.6" fill="#acacac"/>
<ellipse cx="353" cy="415.6" rx="6" ry="3" fill="#787878"/>
<ellipse cx="367" cy="415.6" rx="6" ry="3" fill="#808080"/>
</g>
<rect x="333.4" y="435.3" width="41.30" height="12.50" fill="#131313"/>
<g filter="url(#bl2)">
<ellipse cx="338.7" cy="441.5" rx="5.1" ry="1.8" fill="#b0b0b0"/>
<ellipse cx="353" cy="441.5" rx="5.1" ry="1.8" fill="#b0b0b0"/>
<ellipse cx="367.5" cy="441.5" rx="5.1" ry="1.8" fill="#b0b0b0"/>
</g>
<linearGradient id="g11" x1="0" y1="0" x2="0" y2="1"><stop offset="0" stop-color="#e8e8e8"/><stop offset="1" stop-color="#eeeeee"/></linearGradient>
<line x1="378.6" y1="395.8" x2="421.8" y2="395.8" stroke="#2a2a2a" stroke-width="1.2"/>
<rect x="378.6" y="400.7" width="43.20" height="32.20" fill="url(#g11)"/>
<rect x="378.6" y="400.7" width="43.20" height="32.20" fill="#000" filter="url(#nz)"/>
<g filter="url(#bl)">
<ellipse cx="385" cy="415" rx="6" ry="3.8" fill="#c8c8c8"/>
<ellipse cx="400" cy="415" rx="6.5" ry="4" fill="#a0a0a0"/>
<ellipse cx="413.5" cy="415" rx="6" ry="3.8" fill="#bcbcbc"/>
</g>
<rect x="378.6" y="435.3" width="43.20" height="12.50" fill="#131313"/>
<g filter="url(#bl2)">
<ellipse cx="384.7" cy="441.5" rx="5.1" ry="1.8" fill="#b0b0b0"/>
<ellipse cx="399.6" cy="441.5" rx="5.1" ry="1.8" fill="#b0b0b0"/>
<ellipse cx="414.5" cy="441.5" rx="5.1" ry="1.8" fill="#b0b0b0"/>
</g>
<linearGradient id="g12" x1="0" y1="0" x2="0" y2="1"><stop offset="0" stop-color="#c8c8c8"/><stop offset="1" stop-color="#d2d2d2"/></linearGradient>
<line x1="427.8" y1="395.8" x2="468.8" y2="395.8" stroke="#2a2a2a" stroke-width="1.2"/>
<rect x="427.8" y="400.7" width="41.00" height="31.70" fill="url(#g12)"/>
<rect x="427.8" y="400.7" width="41.00" height="31.70" fill="#000" filter="url(#nz)"/>
<g filter="url(#bl)">
<rect x="441.00" y="401.7" width="14.00" height="13.90" fill="url(#smear)"/>
<rect x="456.00" y="401.7" width="13.00" height="13.90" fill="url(#smear)"/>
<ellipse cx="434.6" cy="415.6" rx="5.5" ry="3" fill="#949494"/>
<ellipse cx="448" cy="415.6" rx="7" ry="4" fill="#1c1c1c"/>
<ellipse cx="462.5" cy="415.6" rx="6.5" ry="3.8" fill="#262626"/>
</g>
<rect x="427.8" y="435.3" width="41.00" height="12.50" fill="#131313"/>
<g filter="url(#bl2)">
<ellipse cx="433.6" cy="441.5" rx="5.1" ry="1.8" fill="#b0b0b0"/>
<ellipse cx="448" cy="441.5" rx="5.1" ry="1.8" fill="#b0b0b0"/>
<ellipse cx="463.4" cy="441.5" rx="5.1" ry="1.8" fill="#b0b0b0"/>
</g>
<text x="336.30" y="390.60" font-size="13" textLength="37.28" lengthAdjust="spacingAndGlyphs">TNF-<tspan font-weight="normal" font-style="normal">α</tspan></text>
<text x="385.45" y="390.20" font-size="13" textLength="30.60" lengthAdjust="spacingAndGlyphs">IL-1<tspan font-weight="normal" font-style="normal">β</tspan></text>
<text x="436.62" y="389.70" font-size="13" textLength="27.26" lengthAdjust="spacingAndGlyphs">PMA</text>
<text class="nm" x="339.20" y="456.60" font-size="11" text-anchor="middle">0</text>
<text class="nm" x="354.80" y="456.60" font-size="11" text-anchor="middle">24</text>
<text class="nm" x="368.30" y="456.60" font-size="11" text-anchor="middle">48</text>
<text class="nm" x="386.10" y="456.60" font-size="11" text-anchor="middle">0</text>
<text class="nm" x="401.10" y="456.60" font-size="11" text-anchor="middle">24</text>
<text class="nm" x="414.60" y="456.60" font-size="11" text-anchor="middle">48</text>
<text class="nm" x="435.30" y="456.60" font-size="11" text-anchor="middle">0</text>
<text class="nm" x="449.50" y="456.60" font-size="11" text-anchor="middle">24</text>
<text class="nm" x="466.50" y="456.60" font-size="11" text-anchor="middle">48h</text>
<text x="475.65" y="420.00" font-size="10.8" textLength="24.04" lengthAdjust="spacingAndGlyphs">PAI-1</text>
<text x="475.30" y="444.00" font-size="10.8" textLength="36.16" lengthAdjust="spacingAndGlyphs">GAPDH</text>
</svg></body></html>
